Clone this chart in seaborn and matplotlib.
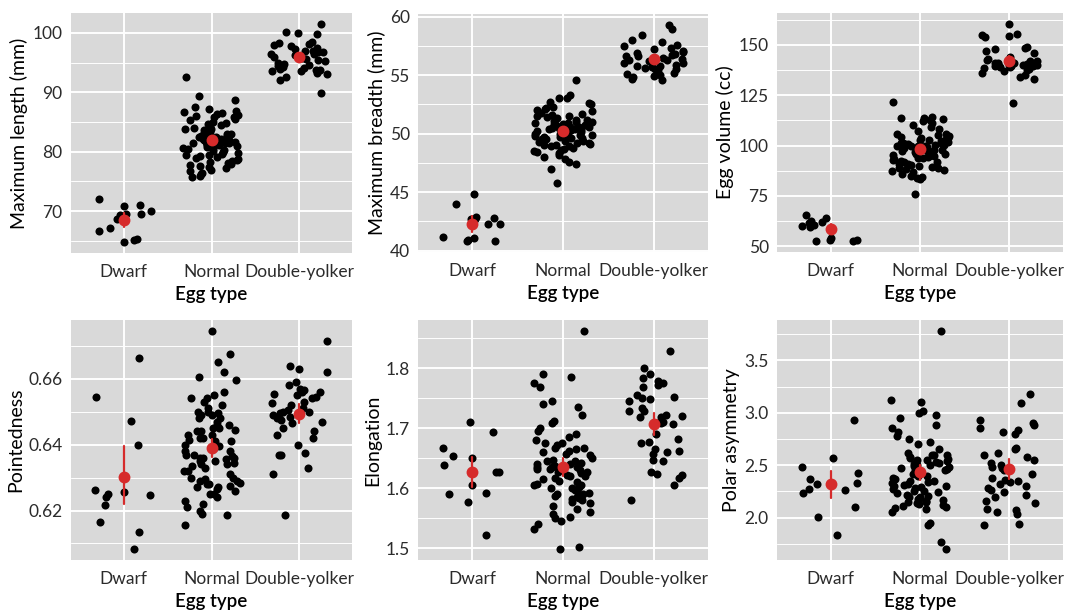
import numpy as np
import pandas as pd
import matplotlib
matplotlib.use("Agg")
import matplotlib.pyplot as plt
import seaborn as sns
from matplotlib.ticker import MultipleLocator, FixedLocator, FormatStrFormatter

categories = ["Dwarf", "Normal", "Double-yolker"]
x_label = "Egg type"

# ---------------- Maximum length (mm)
length_dwarf = [66.6, 71.1, 69.3, 65.4, 70.0, 69.5, 70.9, 72.1, 67.2, 64.8, 65.1, 69.6, 68.6]
length_normal = [92.5, 89.3, 88.7, 87.6, 87.2, 86.9, 86.6, 86.4, 86.2, 86.0, 85.8, 85.5, 85.3, 85.0,
                 84.8, 84.5, 84.2, 84.0, 83.8, 83.6, 83.4, 83.2, 83.0, 82.9, 82.7, 82.5, 82.4, 82.3,
                 82.2, 82.1, 82.0, 81.9, 81.8, 81.7, 81.6, 81.5, 81.4, 81.3, 81.2, 81.1, 81.0, 80.8,
                 80.6, 80.5, 80.3, 80.1, 80.0, 79.8, 79.6, 79.5, 79.3, 79.1, 79.0, 78.8, 78.6, 78.4,
                 78.2, 78.0, 77.8, 77.6, 77.4, 77.2, 77.0, 76.8, 76.5, 76.2, 75.9, 75.7, 83.5, 84.6,
                 82.6, 81.5, 80.4, 79.4, 78.1, 85.9, 86.5, 82.0, 80.9, 83.9]
length_double = [101.5, 100.2, 99.9, 99.8, 98.5, 98.3, 98.2, 98.0, 97.8, 97.5, 97.3, 97.0, 96.9,
                 96.7, 96.5, 96.4, 96.3, 96.2, 96.0, 95.8, 95.6, 95.4, 95.2, 95.0, 94.8, 94.6, 94.4,
                 94.2, 94.0, 93.9, 93.8, 93.7, 93.6, 93.5, 93.3, 93.0, 92.6, 92.0, 89.8, 96.8]

# ---------------- Maximum breadth (mm)
breadth_dwarf = [40.8, 42.3, 42.8, 44.8, 44.0, 41.2, 40.9, 40.8, 41.1, 42.7, 42.9, 42.7, 42.3]
breadth_normal = [54.6, 53.3, 53.0, 52.7, 52.5, 52.3, 52.2, 52.0, 51.9, 51.8, 51.6, 51.5, 51.4, 51.3,
                  51.2, 51.1, 51.0, 50.9, 50.8, 50.7, 50.6, 50.6, 50.5, 50.5, 50.4, 50.3, 50.3, 50.2,
                  50.2, 50.1, 50.0, 50.0, 49.9, 49.9, 49.8, 49.8, 49.7, 49.7, 49.6, 49.5, 49.5, 49.4,
                  49.3, 49.2, 49.2, 49.1, 49.0, 48.9, 48.8, 48.7, 48.6, 48.5, 48.4, 48.3, 48.2, 48.0,
                  47.8, 47.6, 47.4, 47.0, 45.8, 51.7, 50.9, 50.4, 49.9, 49.4, 51.2, 50.7, 52.1, 48.9,
                  50.0, 50.8, 51.5, 49.6, 50.3, 52.6, 51.0, 49.0, 50.6, 53.0]
breadth_double = [59.3, 58.9, 58.4, 58.0, 57.8, 57.5, 57.3, 57.2, 57.1, 57.0, 56.9, 56.8, 56.7, 56.6,
                  56.5, 56.4, 56.3, 56.3, 56.2, 56.1, 56.0, 56.0, 55.9, 55.8, 55.8, 55.7, 55.6, 55.5,
                  55.4, 55.2, 55.1, 55.0, 54.9, 54.8, 54.7, 54.6, 57.6, 56.6, 56.2, 55.5]

# ---------------- Egg volume (cc)
volume_dwarf = [59.8, 54.2, 53.2, 61.6, 59.5, 60.3, 64.1, 52.5, 65.3, 62.0, 62.5, 52.8, 53.3]
volume_normal = [121.8, 114.0, 113.5, 113.2, 112.8, 112.0, 111.0, 110.0, 109.0, 108.0, 107.0, 106.0,
                 105.5, 105.0, 104.5, 104.0, 103.5, 103.0, 102.5, 102.0, 101.5, 101.0, 100.8, 100.5,
                 100.2, 100.0, 99.8, 99.5, 99.2, 99.0, 98.5, 98.0, 97.5, 97.0, 96.5, 96.0, 95.5, 95.0,
                 94.5, 94.0, 93.5, 93.0, 92.5, 92.0, 91.5, 91.0, 90.5, 90.0, 89.5, 89.0, 88.5, 88.0,
                 87.5, 87.0, 86.0, 85.0, 84.0, 83.5, 76.0, 100.3, 101.2, 98.8, 97.8, 96.8, 99.6,
                 102.8, 95.8, 94.8, 93.8, 100.6, 103.8, 91.8, 88.8, 97.2, 98.2, 113.8, 105.8, 84.5,
                 90.8, 99.9]
volume_double = [160.5, 155.5, 155.0, 154.5, 154.0, 149.0, 148.5, 148.0, 147.0, 146.0, 144.0, 143.0,
                 142.5, 142.0, 141.5, 141.0, 141.0, 140.5, 140.5, 140.0, 140.0, 140.0, 139.8, 139.5,
                 139.5, 139.0, 139.0, 138.5, 138.0, 137.5, 137.0, 136.0, 135.0, 134.0, 133.0, 121.0,
                 142.2, 141.2, 139.2, 140.2]

# ---------------- Pointedness
point_dwarf = [0.6662, 0.6545, 0.6473, 0.6398, 0.6257, 0.6251, 0.6241, 0.6135, 0.6218, 0.6165,
               0.6083, 0.6247, 0.6262]
point_normal = [0.6745, 0.6675, 0.6650, 0.6620, 0.6605, 0.6595, 0.6560, 0.6550, 0.6540, 0.6530,
                0.6520, 0.6510, 0.6500, 0.6495, 0.6490, 0.6480, 0.6470, 0.6460, 0.6450, 0.6445,
                0.6440, 0.6430, 0.6420, 0.6415, 0.6410, 0.6400, 0.6395, 0.6390, 0.6380, 0.6370,
                0.6365, 0.6360, 0.6355, 0.6350, 0.6345, 0.6340, 0.6335, 0.6330, 0.6320, 0.6310,
                0.6300, 0.6295, 0.6290, 0.6285, 0.6280, 0.6275, 0.6270, 0.6265, 0.6260, 0.6250,
                0.6240, 0.6230, 0.6220, 0.6210, 0.6200, 0.6190, 0.6185, 0.6155, 0.6540, 0.6490,
                0.6450, 0.6420, 0.6380, 0.6360, 0.6340, 0.6300, 0.6280, 0.6270, 0.6430, 0.6460,
                0.6500, 0.6360, 0.6320, 0.6290, 0.6440, 0.6410, 0.6350, 0.6250, 0.6480, 0.6370]
point_double = [0.6715, 0.6640, 0.6630, 0.6620, 0.6590, 0.6580, 0.6570, 0.6565, 0.6560, 0.6555,
                0.6550, 0.6545, 0.6540, 0.6530, 0.6525, 0.6520, 0.6510, 0.6505, 0.6500, 0.6500,
                0.6495, 0.6490, 0.6485, 0.6480, 0.6475, 0.6470, 0.6465, 0.6450, 0.6440, 0.6430,
                0.6420, 0.6400, 0.6375, 0.6370, 0.6370, 0.6330, 0.6310, 0.6185, 0.6560, 0.6500]

# ---------------- Elongation
elong_dwarf = [1.654, 1.639, 1.711, 1.592, 1.577, 1.606, 1.668, 1.650, 1.627, 1.693, 1.522, 1.590, 1.627]
elong_normal = [1.862, 1.790, 1.785, 1.775, 1.768, 1.745, 1.740, 1.735, 1.722, 1.712, 1.708, 1.700,
                1.695, 1.690, 1.685, 1.680, 1.676, 1.672, 1.668, 1.665, 1.662, 1.658, 1.655, 1.650,
                1.648, 1.645, 1.642, 1.640, 1.638, 1.636, 1.635, 1.633, 1.632, 1.630, 1.628, 1.625,
                1.622, 1.620, 1.618, 1.615, 1.612, 1.610, 1.607, 1.605, 1.602, 1.600, 1.598, 1.595,
                1.592, 1.590, 1.588, 1.586, 1.584, 1.582, 1.580, 1.578, 1.575, 1.570, 1.565, 1.560,
                1.557, 1.553, 1.550, 1.545, 1.540, 1.533, 1.502, 1.499, 1.640, 1.635, 1.628, 1.668,
                1.660, 1.605, 1.590, 1.585, 1.620, 1.600, 1.645, 1.675]
elong_double = [1.828, 1.800, 1.790, 1.783, 1.778, 1.775, 1.772, 1.768, 1.755, 1.752, 1.750, 1.748,
                1.745, 1.733, 1.728, 1.728, 1.722, 1.720, 1.718, 1.718, 1.710, 1.708, 1.707, 1.690,
                1.682, 1.678, 1.675, 1.665, 1.662, 1.660, 1.658, 1.648, 1.645, 1.628, 1.624, 1.622,
                1.618, 1.606, 1.580, 1.708]

# ---------------- Polar asymmetry
polar_dwarf = [2.365, 2.260, 2.317, 2.571, 2.482, 2.101, 2.932, 2.238, 2.428, 2.276, 2.006, 1.832, 2.333]
polar_normal = [3.78, 3.12, 3.10, 3.02, 3.00, 2.98, 2.95, 2.88, 2.85, 2.82, 2.78, 2.75, 2.72, 2.70,
                2.65, 2.62, 2.60, 2.60, 2.58, 2.57, 2.56, 2.55, 2.54, 2.53, 2.52, 2.51, 2.50, 2.49,
                2.48, 2.47, 2.46, 2.45, 2.44, 2.43, 2.42, 2.40, 2.38, 2.37, 2.35, 2.34, 2.33, 2.32,
                2.31, 2.30, 2.29, 2.28, 2.27, 2.25, 2.24, 2.23, 2.22, 2.21, 2.20, 2.19, 2.18, 2.17,
                2.16, 2.15, 2.14, 2.13, 2.12, 2.11, 2.10, 2.09, 2.08, 2.05, 1.95, 1.93, 1.77, 1.70,
                2.55, 2.50, 2.45, 2.40, 2.35, 2.20, 2.15, 2.60, 2.25, 2.30]
polar_double = [3.18, 3.09, 2.93, 2.90, 2.88, 2.85, 2.84, 2.82, 2.80, 2.66, 2.65, 2.62, 2.60, 2.58,
                2.55, 2.52, 2.48, 2.47, 2.45, 2.42, 2.38, 2.36, 2.35, 2.34, 2.32, 2.30, 2.28, 2.26,
                2.24, 2.22, 2.20, 2.16, 2.14, 2.08, 2.07, 2.05, 2.03, 1.94, 1.93, 2.50]

y_labels = ["Maximum length (mm)", "Maximum breadth (mm)", "Egg volume (cc)",
            "Pointedness", "Elongation", "Polar asymmetry"]
y_ticks = [[70, 80, 90, 100], [40, 45, 50, 55, 60], [50, 75, 100, 125, 150],
           [0.62, 0.64, 0.66], [1.5, 1.6, 1.7, 1.8], [2.0, 2.5, 3.0, 3.5]]
y_fmt = ["%d", "%d", "%d", "%.2f", "%.1f", "%.1f"]

series = [
    (length_dwarf, length_normal, length_double),
    (breadth_dwarf, breadth_normal, breadth_double),
    (volume_dwarf, volume_normal, volume_double),
    (point_dwarf, point_normal, point_double),
    (elong_dwarf, elong_normal, elong_double),
    (polar_dwarf, polar_normal, polar_double),
]

# ---------------- style
sns.set_style("darkgrid", {"axes.facecolor": "#D9D9D9", "grid.color": "white"})
plt.rcParams["font.family"] = ["Lato", "DejaVu Sans"]

W, H = 1079, 612
fig = plt.figure(figsize=(W / 100, H / 100), dpi=100)
fig.patch.set_facecolor("white")

# panel rectangles in pixels (x0, y0, x1, y1), top-left origin
rects = [(71, 13, 352, 253), (418, 14, 708, 252), (777, 13, 1063, 252),
         (71, 320, 352, 560), (418, 320, 708, 560), (777, 320, 1063, 560)]

for i, (vals, rect) in enumerate(zip(series, rects)):
    x0, y0, x1, y1 = rect
    ax = fig.add_axes([x0 / W, 1 - y1 / H, (x1 - x0) / W, (y1 - y0) / H])
    df = pd.DataFrame({
        "type": sum([[c] * len(v) for c, v in zip(categories, vals)], []),
        "value": sum([list(v) for v in vals], []),
    })
    np.random.seed(7 + i)
    sns.stripplot(data=df, x="type", y="value", order=categories, color="black",
                  jitter=0.33, size=5.8, linewidth=0, ax=ax, zorder=3)
    sns.pointplot(data=df, x="type", y="value", order=categories, color="#D62B2B",
                  errorbar=("ci", 95), seed=1, linestyle="none", markersize=6.5,
                  err_kws={"linewidth": 1.6}, ax=ax)
    for ln in ax.lines:
        ln.set_zorder(5)

    allv = df["value"].to_numpy()
    lo, hi = allv.min(), allv.max()
    pad = 0.05 * (hi - lo)
    ax.set_ylim(lo - pad, hi + pad)
    ax.set_xlim(-0.6, 2.6)

    step = y_ticks[i][1] - y_ticks[i][0]
    ax.yaxis.set_major_locator(FixedLocator(y_ticks[i]))
    ax.yaxis.set_major_formatter(FormatStrFormatter(y_fmt[i]))
    ax.yaxis.set_minor_locator(MultipleLocator(step / 2))
    ax.grid(True, which="major", color="white", linewidth=1.4)
    ax.grid(True, which="minor", axis="y", color="white", linewidth=0.7)
    ax.set_axisbelow(True)
    for s in ax.spines.values():
        s.set_visible(False)

    ax.tick_params(axis="both", which="major", length=3, width=0.8, color="#333333",
                   labelsize=12.5, labelcolor="#2b2b2b", pad=3)
    ax.tick_params(axis="x", which="major", pad=5)
    ax.tick_params(axis="y", which="minor", length=0)
    ax.set_ylabel(y_labels[i], fontsize=14, color="black", labelpad=3)
    ax.set_xlabel(x_label, fontsize=13.5, color="black", fontweight="semibold", labelpad=4)

fig.savefig("out.png", dpi=100, facecolor="white")
